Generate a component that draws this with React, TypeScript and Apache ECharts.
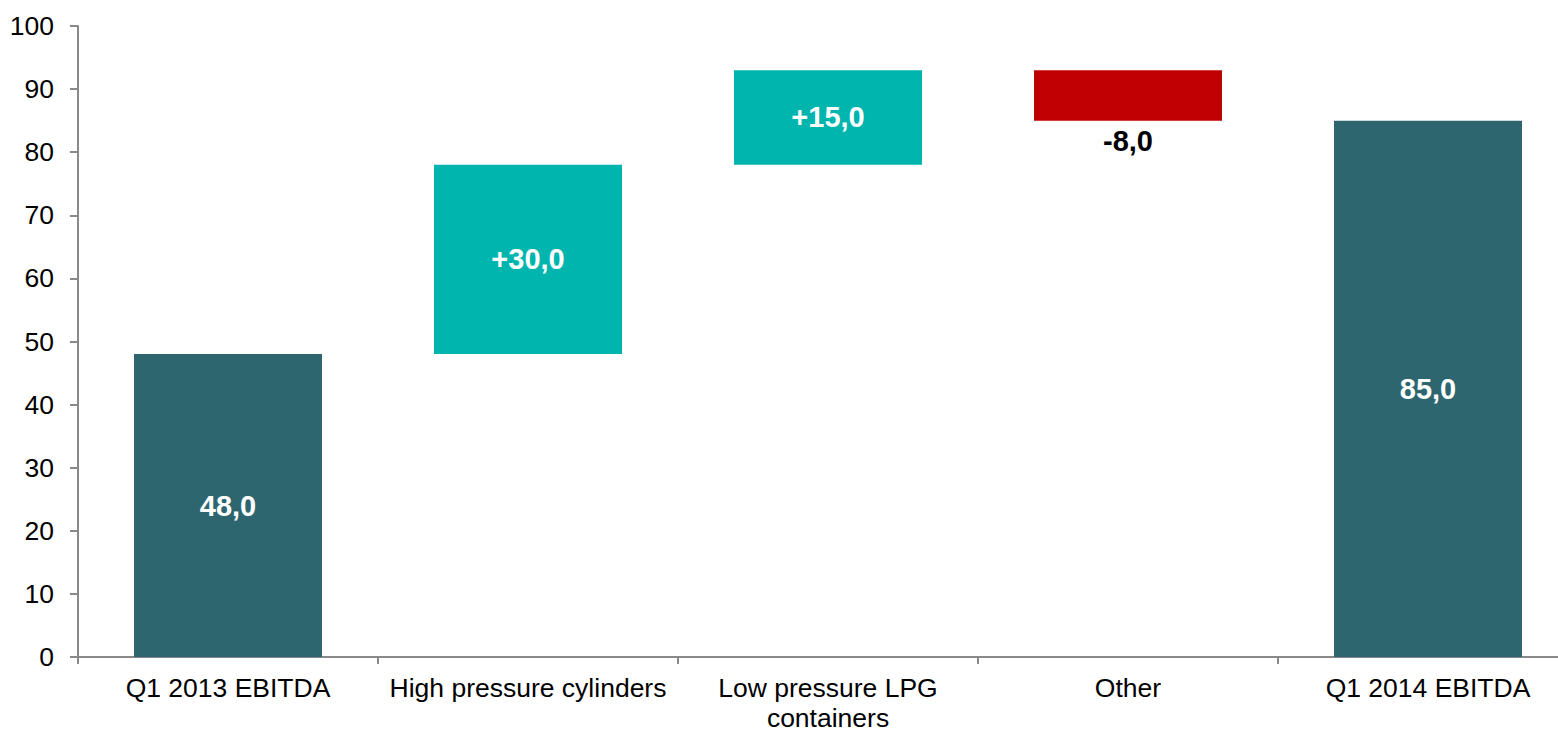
import React, { useEffect, useRef } from "react";
import * as echarts from "echarts";

const categories = [
  "Q1 2013 EBITDA",
  "High pressure cylinders",
  "Low pressure LPG\ncontainers",
  "Other",
  "Q1 2014 EBITDA",
];
const changes = [48, 30, 15, -8, 85];
const kinds = ["total", "delta", "delta", "delta", "total"];
const labels = ["48,0", "+30,0", "+15,0", "-8,0", "85,0"];
const yTicks = { min: 0, max: 100, interval: 10 };

const COLOR_TOTAL = "#2E6670";
const COLOR_UP = "#00B5AD";
const COLOR_DOWN = "#C00000";
const FONT = "'Liberation Sans', Arial, Helvetica, sans-serif";

export default function App() {
  const ref = useRef<HTMLDivElement>(null);
  useEffect(() => {
    if (!ref.current) return;
    const chart = echarts.init(ref.current, undefined, { renderer: "svg" });

    let running = 0;
    const base: number[] = [];
    const heights: any[] = [];
    changes.forEach((v, i) => {
      if (kinds[i] === "total") {
        base.push(0);
        running = v;
        heights.push({
          value: v,
          itemStyle: { color: COLOR_TOTAL },
          label: { position: "inside", color: "#ffffff" },
        });
      } else if (v >= 0) {
        base.push(running);
        running += v;
        heights.push({
          value: v,
          itemStyle: { color: COLOR_UP },
          label: { position: "inside", color: "#ffffff" },
        });
      } else {
        running += v;
        base.push(running);
        heights.push({
          value: -v,
          itemStyle: { color: COLOR_DOWN },
          label: { position: "bottom", color: "#000000", distance: 6 },
        });
      }
    });

    chart.setOption({
      animation: false,
      textStyle: { fontFamily: FONT },
      grid: { left: 78, top: 26, bottom: 73, right: 0, containLabel: false },
      xAxis: {
        type: "category",
        data: categories,
        boundaryGap: true,
        axisLine: { show: true, lineStyle: { color: "#898989", width: 2 } },
        axisTick: { show: true, alignWithLabel: false, length: 7, lineStyle: { color: "#898989", width: 2 } },
        axisLabel: {
          interval: 0,
          color: "#000000",
          fontSize: 26.5,
          fontFamily: FONT,
          margin: 16,
          lineHeight: 30,
        },
        splitLine: { show: false },
      },
      yAxis: {
        type: "value",
        min: yTicks.min,
        max: yTicks.max,
        interval: yTicks.interval,
        axisLine: { show: true, lineStyle: { color: "#898989", width: 2 } },
        axisTick: { show: true, length: 8, lineStyle: { color: "#898989", width: 2 } },
        axisLabel: { color: "#000000", fontSize: 26.5, fontFamily: FONT, margin: 24 },
        splitLine: { show: false },
      },
      series: [
        {
          type: "bar",
          stack: "wf",
          data: base,
          barWidth: 188,
          itemStyle: { color: "transparent" },
          silent: true,
        },
        {
          type: "bar",
          stack: "wf",
          data: heights,
          barWidth: 188,
          label: {
            show: true,
            fontSize: 29,
            fontWeight: "bold",
            fontFamily: FONT,
            formatter: (p: any) => labels[p.dataIndex],
          },
        },
      ],
    });
    return () => chart.dispose();
  }, []);
  return (
    <div
      style={{ position: "fixed", left: 0, top: 0, width: 1558, height: 733, overflow: "hidden", background: "#fff" }}
    >
      <div ref={ref} style={{ width: 1578, height: 733 }} />
    </div>
  );
}
